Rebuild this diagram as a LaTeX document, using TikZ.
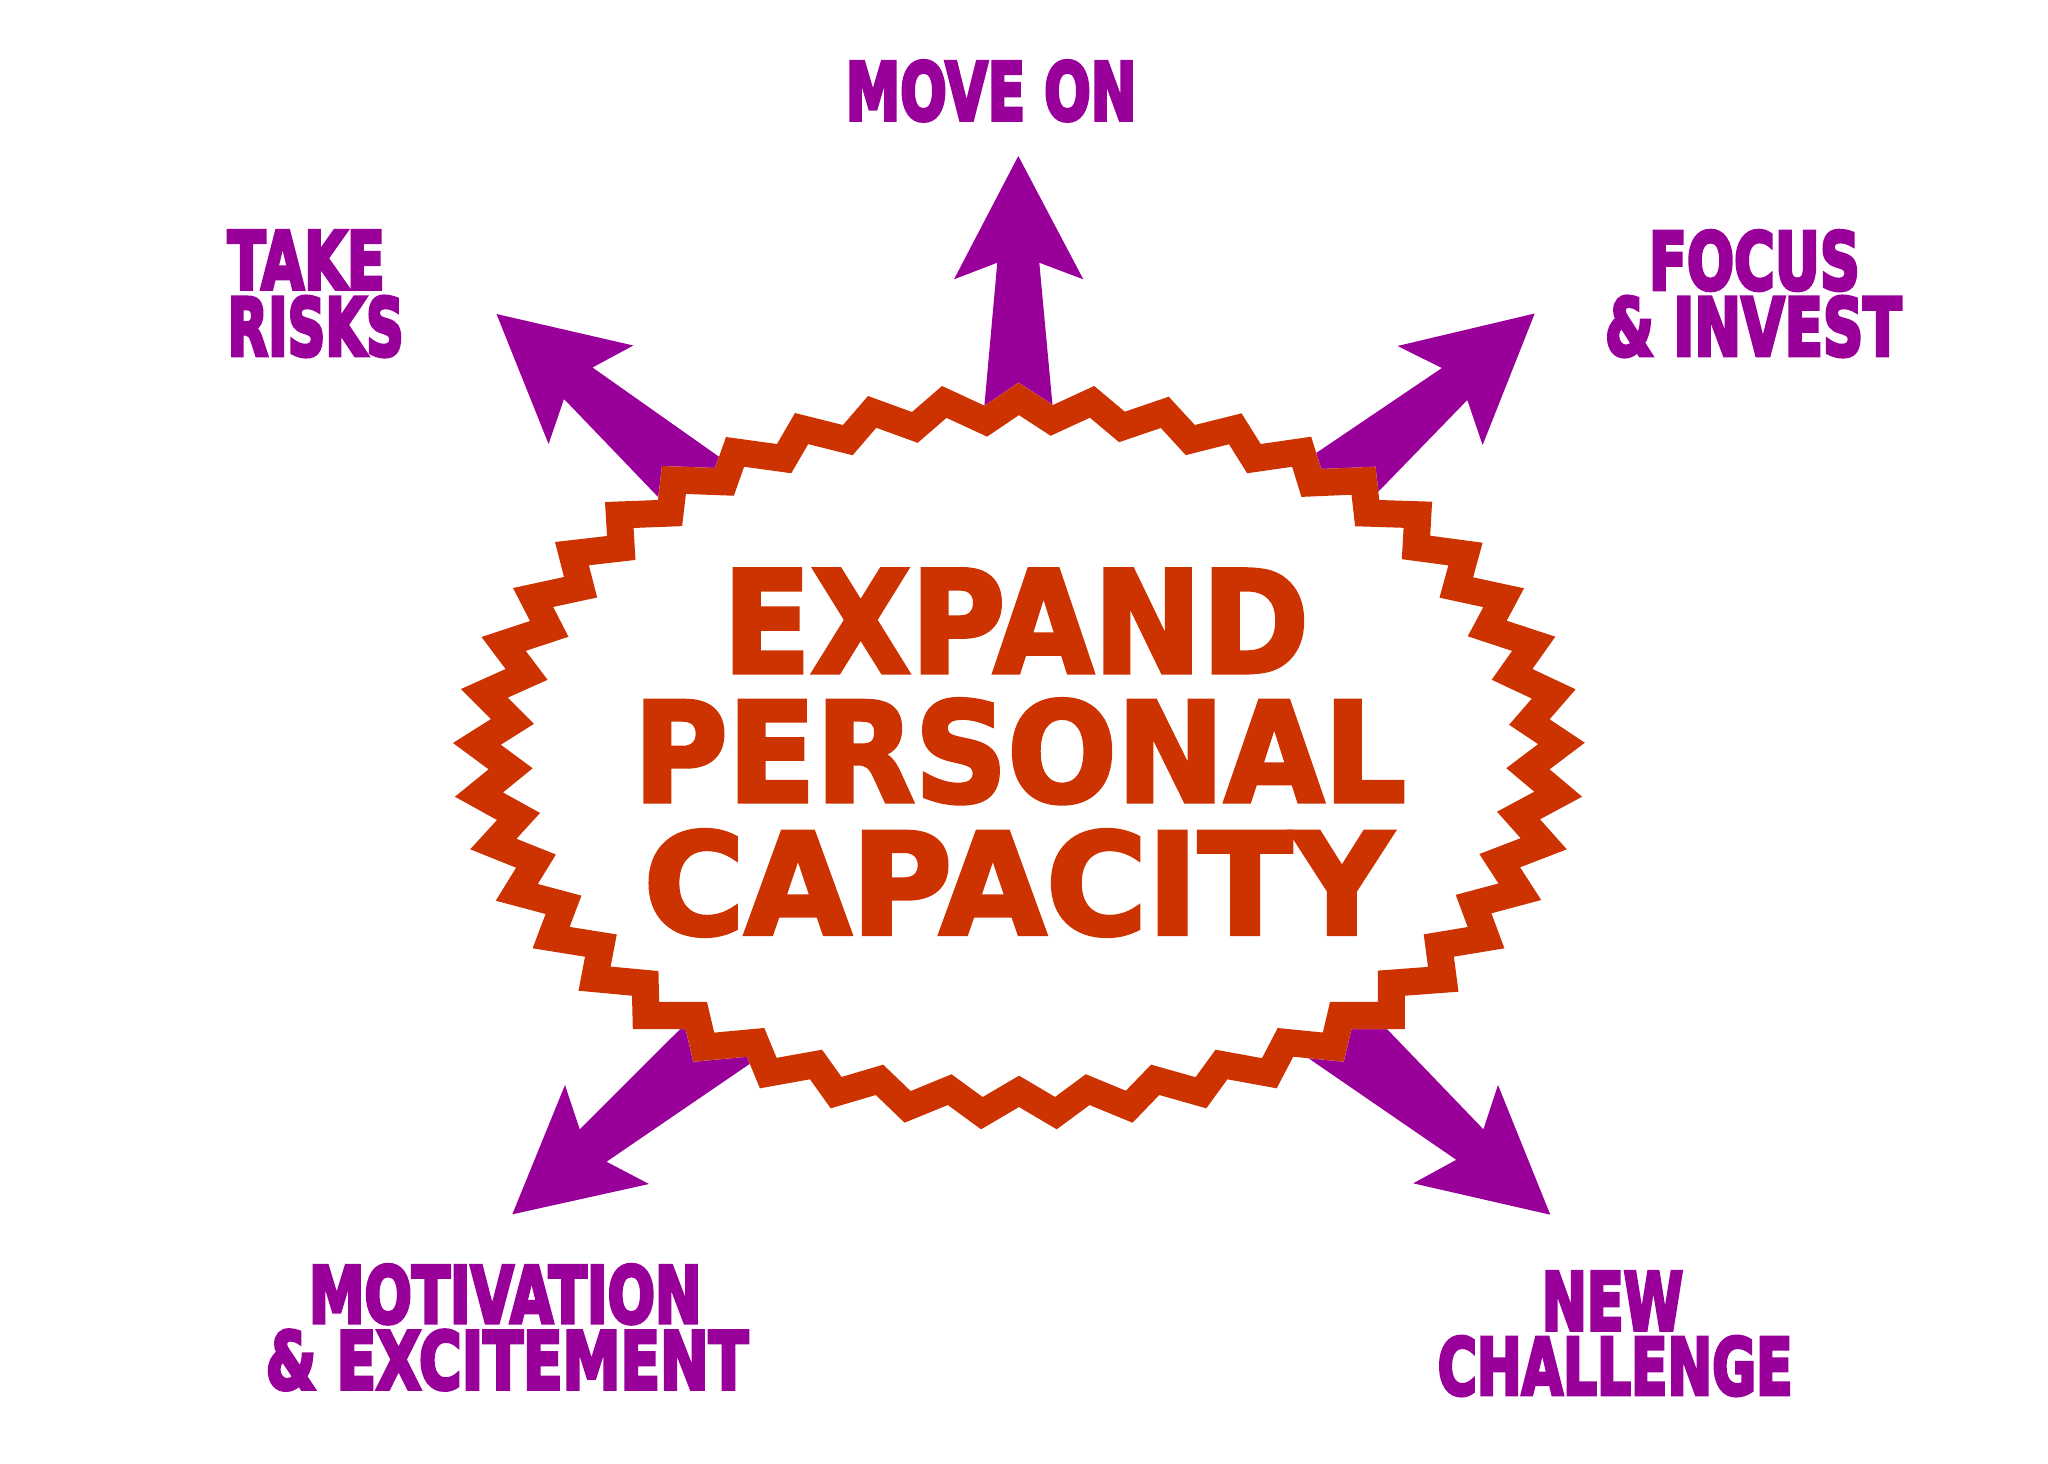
\documentclass[tikz,border=0pt]{standalone}
\usepackage{graphicx}
\usepackage{fontspec}
\newfontfamily\heavyfont{DejaVu Sans}[FakeBold=3]
\newfontfamily\heavierfont{DejaVu Sans}[FakeBold=5]
\definecolor{arrowpurple}{RGB}{153,0,153}
\definecolor{burstred}{RGB}{204,51,0}
\newcommand{\twolines}[6]{% offset1, width1, height1, text1, gap, second line
  \vbox{\offinterlineskip
    \hbox{\kern#1\resizebox{#2}{#3}{#4}}\vskip#5
    \hbox{#6}}}
\tikzset{
  arrowshape/.style={fill=arrowpurple, draw=none},
  purplelabel/.style={inner sep=0pt, anchor=south west, text=arrowpurple, font=\heavierfont\bfseries},
  redlabel/.style={inner sep=0pt, anchor=south west, text=burstred, font=\heavyfont\bfseries},
  bandline/.style={draw=burstred, line width=0.54cm, miter limit=20, line join=miter}
}
\begin{document}
\begin{tikzpicture}[x=0.01cm,y=-0.01cm]
\useasboundingbox (0,0) rectangle (2048,1463);
\fill[white] (0,0) rectangle (2048,1463);

% arrows (drawn first, the burst covers their bases)
\fill[arrowshape] (1018.3,156) -- (1083.3,279.3) -- (1039.3,262.7) -- (1055,432) -- (982,432) -- (997.3,262.7) -- (954,279.3) -- cycle;
\fill[arrowshape] (496.5,314) -- (633.3,345.5) -- (592.5,367.5) -- (743.5,474) -- (678.6,518.3) -- (564,399) -- (548.6,444) -- cycle;
\fill[arrowshape] (1534.7,313.5) -- (1397.5,346) -- (1441.9,368) -- (1293.3,468.5) -- (1358.4,512.2) -- (1467.3,400) -- (1482.6,445) -- cycle;
\fill[arrowshape] (512.3,1214.3) -- (565,1085) -- (579.7,1129.3) -- (702.2,1007.1) -- (772.8,1048.1) -- (606.5,1161.7) -- (649,1184) -- cycle;
\fill[arrowshape] (1550.3,1214.7) -- (1498,1085) -- (1483.4,1129.3) -- (1366.2,1007.4) -- (1283.8,1041.3) -- (1456.3,1159.8) -- (1413.2,1183.3) -- cycle;

% starburst outline
\path[save path=\starshape]
 (1018.6,382.7) -- (1052.9,405) -- (1094.2,386) -- (1124.8,411.7) -- (1168.8,396.7)
 -- (1194.8,425) -- (1241.5,413.3) -- (1260.7,444) -- (1311.2,436.7) -- (1321.1,469)
 -- (1375.5,466.7) -- (1379.3,500) -- (1432.1,501.7) -- (1430.2,535.7) -- (1482.6,542.7)
 -- (1473.1,577.3) -- (1524,588.3) -- (1506.7,620.7) -- (1555.3,636.7) -- (1532.4,669)
 -- (1575.6,689.3) -- (1549.6,719.3) -- (1584.8,742.7)
 -- (1549.6,769.3) -- (1582.1,796.7) -- (1540,819.3) -- (1566.8,849.3) -- (1520.1,867.3)
 -- (1541.2,900) -- (1491.4,913.3) -- (1504.4,948.3) -- (1453.9,956.7) -- (1458.5,991.7)
 -- (1404.9,995.7) -- (1404.9,1029) -- (1351.4,1029) -- (1343.7,1061.7) -- (1293.2,1056.7)
 -- (1276.7,1088.3) -- (1227.4,1079.3) -- (1206.3,1108.3) -- (1159.3,1095) -- (1132.5,1122.7)
 -- (1089.6,1105) -- (1056.7,1129.3) -- (1019,1107)
 -- (981.1,1129.3) -- (947.8,1105) -- (904.6,1122.7) -- (875.8,1095) -- (830.7,1108.3)
 -- (810,1079.3) -- (759.9,1088.3) -- (746.9,1056.7) -- (693.3,1061.7) -- (685.6,1029)
 -- (632.8,1029) -- (632,995.7) -- (578.5,990.7) -- (585,956.7) -- (532.6,948.3)
 -- (545.6,914) -- (495.8,900.7) -- (516.1,867.7) -- (470.2,849.3) -- (497,820)
 -- (454.9,796.7) -- (488.6,769.3) -- (453,743)
 -- (491,719) -- (461,689) -- (505.6,669) -- (481.5,637) -- (530,621)
 -- (513,588) -- (564,577) -- (555,542) -- (607,536) -- (605,502)
 -- (658,500) -- (662,466) -- (715,468) -- (726,437) -- (777,444)
 -- (795,413) -- (843,425) -- (868,396) -- (912,412) -- (942,386)
 -- (984.6,405.7) -- cycle;
\fill[white, use path=\starshape];
\begin{scope}
  \clip[use path=\starshape];
  \draw[bandline, use path=\starshape];
\end{scope}

% labels
\node[purplelabel] (moveon) at (845,121.7) {\resizebox{2.907cm}{0.59cm}{MOVE ON}};
\node[purplelabel] (takerisks) at (227,357.3)
  {\twolines{0cm}{1.57cm}{0.58cm}{TAKE}{0.076cm}{\resizebox{1.76cm}{0.59cm}{RISKS}}};
\node[purplelabel] (focusinvest) at (1604.3,357.3)
  {\twolines{0.44cm}{2.107cm}{0.586cm}{FOCUS}{0.06cm}{\resizebox{2.964cm}{0.59cm}{\& INVEST}}};
\node[purplelabel] (motivation) at (265,1390.7)
  {\twolines{0.433cm}{3.924cm}{0.58cm}{MOTIVATION}{0.063cm}{\resizebox{4.823cm}{0.587cm}{\& EXCITEMENT}}};
\node[purplelabel] (newchallenge) at (1437,1396.3)
  {\twolines{1.04cm}{1.413cm}{0.58cm}{NEW}{0.066cm}{\resizebox{3.547cm}{0.58cm}{CHALLENGE}}};

\node[redlabel] (expand) at (722,673.3) {\resizebox{5.858cm}{1.033cm}{EXPAND}};
\node[redlabel] (personal) at (632.8,804.3) {\resizebox{7.719cm}{1.026cm}{PERSONAL}};
\node[redlabel] (capacity) at (643,936.7) {\resizebox{7.474cm}{1.04cm}{CAPACITY}};
\end{tikzpicture}
\end{document}
